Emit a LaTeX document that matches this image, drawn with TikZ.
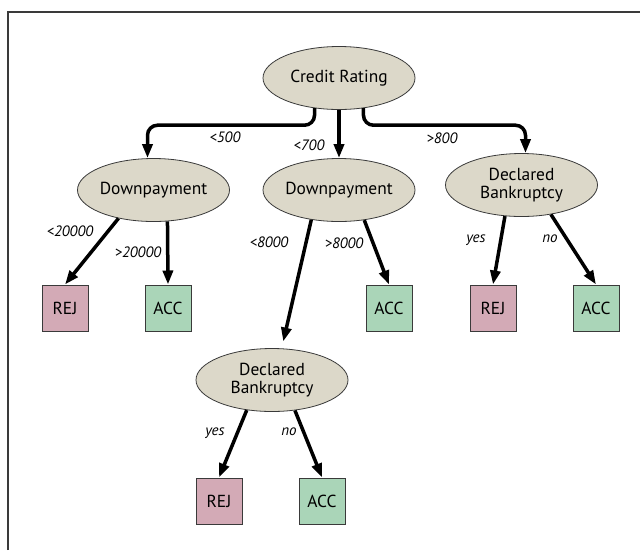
\documentclass[tikz,border=0pt]{standalone}
\usepackage{fontspec}
\setmainfont{PT Sans}
\usetikzlibrary{arrows.meta,shapes.geometric}
\definecolor{ellfill}{HTML}{DCD8C9}
\definecolor{rejfill}{HTML}{D3AAB6}
\definecolor{accfill}{HTML}{AAD5B8}
\definecolor{edgegray}{HTML}{3A3A3A}
\tikzset{
  decision/.style={ellipse, draw=edgegray, line width=0.8pt, fill=ellfill, minimum width=152pt, minimum height=63pt, inner sep=0pt, align=center, font=\fontsize{17.4}{18.5}\selectfont},
  leafrej/.style={rectangle, draw=edgegray, line width=1pt, fill=rejfill, minimum width=46pt, minimum height=46pt, inner sep=0pt, font=\fontsize{17.4}{18}\selectfont},
  leafacc/.style={rectangle, draw=edgegray, line width=1pt, fill=accfill, minimum width=46pt, minimum height=46pt, inner sep=0pt, font=\fontsize{17.4}{18}\selectfont},
  arr/.style={line width=3.5pt, -{Triangle[length=14pt,width=10pt]}},
  lbl/.style={font=\fontsize{15}{16}\selectfont\itshape, inner sep=0pt},
}
\begin{document}
\begin{tikzpicture}[x=1pt,y=-1pt]
\useasboundingbox (0,0) rectangle (640,550);
\draw[edgegray, line width=1.5pt] (8,550) -- (8,12) -- (640,12);

\node[decision] (cr) at (339,78) {Credit Rating};
\node[decision] (dp1) at (153.5,190) {Downpayment};
\node[decision] (dp2) at (339,190) {Downpayment};
\node[decision] (db1) at (521.5,185) {Declared\\Bankruptcy};
\node[decision] (db2) at (272,380) {Declared\\Bankruptcy};

\node[leafrej] (rej1) at (65,308) {REJ};
\node[leafacc] (acc1) at (168,308) {ACC};
\node[leafacc] (acc2) at (389,308) {ACC};
\node[leafrej] (rej2) at (493,308) {REJ};
\node[leafacc] (acc3) at (596,308) {ACC};
\node[leafrej] (rej3) at (219,501) {REJ};
\node[leafacc] (acc4) at (322,501) {ACC};

\draw[arr, rounded corners=10pt] (cr.231) -- ++(0,17) -| ([xshift=-6pt]dp1.north);
\draw[arr] (cr.south) -- (dp2.north);
\draw[arr, rounded corners=10pt] (cr.309) -- ++(0,17) -| ([xshift=4pt]db1.north);

\draw[arr] (dp1.219) -- (rej1.north);
\draw[arr] (dp1.294.6) -- (acc1.north);
\draw[arr, shorten >=7pt] (dp2.227) -- (db2.73);
\draw[arr] (dp2.310.6) -- (acc2.north);
\draw[arr] (db1.242.7) -- (rej2.north);
\draw[arr] (db1.315.5) -- (acc3.north);
\draw[arr] (db2.230) -- (rej3.north);
\draw[arr] (db2.307.5) -- (acc4.north);

\node[lbl] (l1) at (225,137) {<500};
\node[lbl] (l2) at (309,145) {<700};
\node[lbl] (l3) at (442,138) {>800};
\node[lbl] (l4) at (70,231) {<20000};
\node[lbl] (l5) at (138,252) {>20000};
\node[lbl] (l6) at (269,242) {<8000};
\node[lbl] (l7) at (344,243) {>8000};
\node[lbl] (l8) at (476,240) {yes};
\node[lbl] (l9) at (550,239) {no};
\node[lbl] (l10) at (215,433) {yes};
\node[lbl] (l11) at (289,432) {no};
\end{tikzpicture}
\end{document}
